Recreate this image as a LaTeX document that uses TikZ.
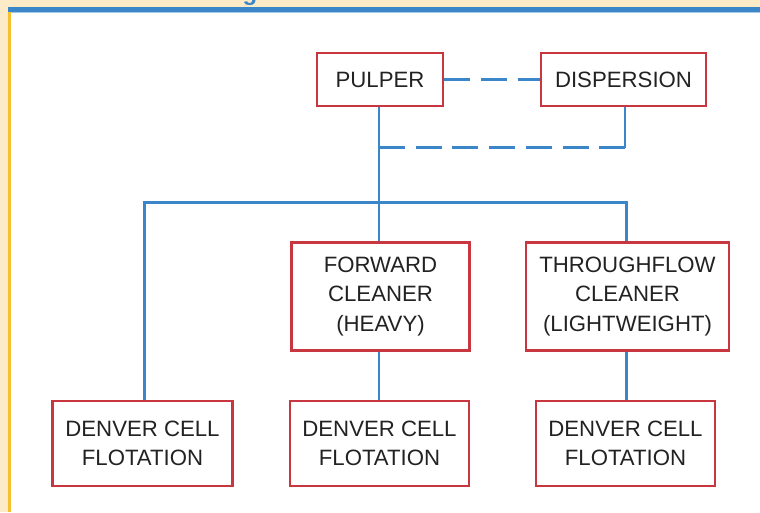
\documentclass[tikz,border=0pt]{standalone}
\usepackage{fontspec}
\setmainfont{Liberation Sans}
\usetikzlibrary{calc}
\definecolor{lineblue}{HTML}{3A86C8}
\definecolor{boxred}{HTML}{C8373F}
\definecolor{cream}{HTML}{FDEBC8}
\definecolor{bordery}{HTML}{F7C02E}
\definecolor{txt}{HTML}{222222}
\begin{document}
\begin{tikzpicture}[x=1pt,y=-1pt,
  unit/.style={draw=boxred, line width=2.5pt, fill=white, inner sep=0pt,
    align=center, text=txt, font=\fontsize{22.2}{29.5}\selectfont},
  link/.style={draw=lineblue, line width=2.8pt},
  dlink/.style={link, dash pattern=on 26pt off 10.7pt}]
\useasboundingbox (0,0) rectangle (760,512);
% frame
\fill[cream] (0,0) rectangle (760,7.3);
\fill[cream] (0,0) rectangle (8,512);
\begin{scope}
\clip (0,0) rectangle (760,7.3);
\node[anchor=base, text=lineblue, font=\bfseries\fontsize{24}{24}\selectfont, inner sep=0pt] (gtitle) at (250,0.5) {g};
\end{scope}
\fill[lineblue] (8,7.3) rectangle (760,12.3);
\fill[lineblue!45] (8,12.3) rectangle (760,13);
\fill[bordery] (8,12.3) rectangle (11,512);
% nodes
\node[unit, minimum width=126pt, minimum height=53pt] (pulper) at (380,79.5) {PULPER};
\node[unit, minimum width=165pt, minimum height=53pt] (disp) at (623.5,79.5) {DISPERSION};
\node[unit, minimum width=178pt, minimum height=108pt] (fwd) at (380.5,296.5) {FORWARD\\CLEANER\\(HEAVY)};
\node[unit, minimum width=203pt, minimum height=108pt] (thru) at (627.5,296.5) {THROUGHFLOW\\CLEANER\\(LIGHTWEIGHT)};
\node[unit, minimum width=180pt, minimum height=85pt] (d1) at (142.5,443.5) {DENVER CELL\\FLOTATION};
\node[unit, minimum width=179pt, minimum height=85pt] (d2) at (379.5,443.5) {DENVER CELL\\FLOTATION};
\node[unit, minimum width=179pt, minimum height=85pt] (d3) at (625.5,443.5) {DENVER CELL\\FLOTATION};
\coordinate (j1) at (379,147.7);
\coordinate (j2) at (379,202.7);
\coordinate (c1) at (144.3,202.7);
\coordinate (c2) at (626.5,202.7);
% connectors
\draw[dlink] (pulper.east) -- (disp.west);
\draw[link] (pulper.south -| j1) -- (fwd.north -| j1);
\draw[dlink] (j1) -- (625,147.7);
\draw[link] (625,147.7) -- (disp.south -| 625,0);
\draw[link] (d1.north -| c1) -- (c1) -- (c2) -- (thru.north -| c2);
\draw[link] (fwd.south -| j1) -- (d2.north -| j1);
\draw[link] (thru.south -| c2) -- (d3.north -| c2);
\end{tikzpicture}
\end{document}
